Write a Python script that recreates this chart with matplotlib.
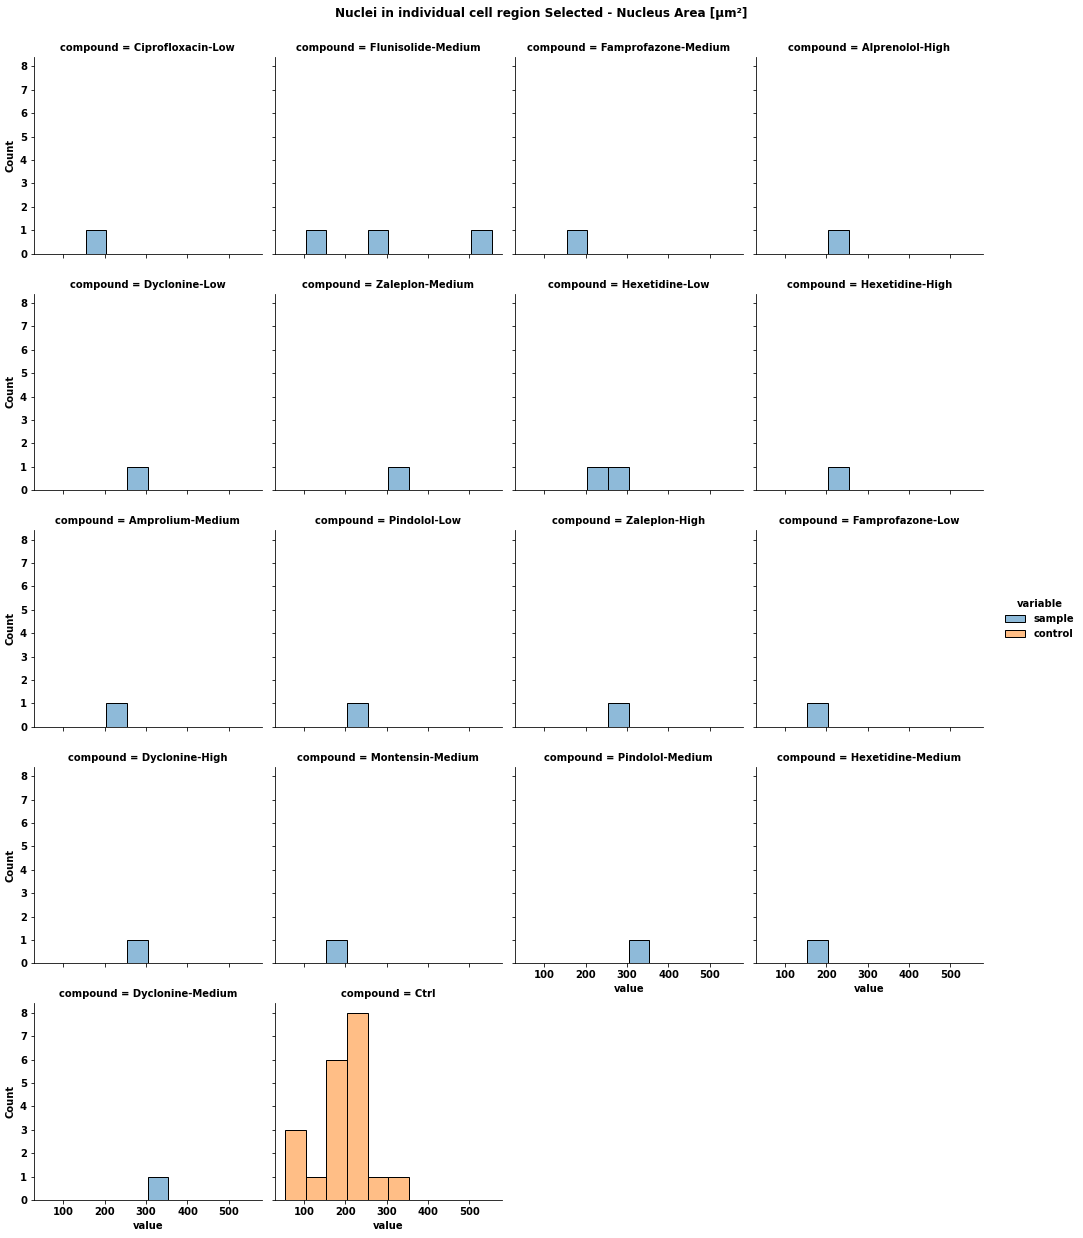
import numpy as np
import pandas as pd
import matplotlib
matplotlib.use("Agg")
import matplotlib.pyplot as plt
import seaborn as sns

# facet order as in the grid (last one is the control)
compounds = [
    "Ciprofloxacin-Low", "Flunisolide-Medium", "Famprofazone-Medium", "Alprenolol-High",
    "Dyclonine-Low", "Zaleplon-Medium", "Hexetidine-Low", "Hexetidine-High",
    "Amprolium-Medium", "Pindolol-Low", "Zaleplon-High", "Famprofazone-Low",
    "Dyclonine-High", "Montensin-Medium", "Pindolol-Medium", "Hexetidine-Medium",
    "Dyclonine-Medium",
]
sample_values = [
    [178], [128, 279, 530], [181], [229],
    [280], [330], [228, 281], [230],
    [227], [231], [278], [176],
    [282], [179], [329], [180],
    [331],
]
ctrl_values = [62, 78, 95, 130,
               160, 170, 178, 185, 192, 199,
               208, 214, 220, 226, 232, 238, 244, 250,
               275, 325]
bin_edges = [54, 104, 154, 204, 254, 304, 354, 404, 454, 504, 554]

rows = []
for name, vals in zip(compounds, sample_values):
    for v in vals:
        rows.append({"compound": name, "variable": "sample", "value": v})
for v in ctrl_values:
    rows.append({"compound": "Ctrl", "variable": "control", "value": v})
df = pd.DataFrame(rows)

plt.rcParams["font.weight"] = "bold"
plt.rcParams["axes.labelweight"] = "bold"
plt.rcParams["axes.titleweight"] = "bold"
plt.rcParams["font.size"] = 10

g = sns.displot(
    data=df, x="value", hue="variable", hue_order=["sample", "control"],
    col="compound", col_wrap=4, col_order=compounds + ["Ctrl"],
    bins=bin_edges, height=3.3, aspect=1,
)
g.set(yticks=range(0, 9))

fig = g.figure
fig.set_dpi(72)
fig.set_size_inches(1083 / 72, 1238 / 72)
fig.subplots_adjust(left=0.0314, right=0.9077, top=0.954, bottom=0.0307,
                    wspace=0.057, hspace=0.203)
sns.move_legend(g, "center left", bbox_to_anchor=(0.92, 0.5), frameon=False)
fig.suptitle("Nuclei in individual cell region Selected - Nucleus Area [µm²]",
             fontsize=12, fontweight="bold", y=0.9945)

fig.savefig("out.png", dpi=72)
